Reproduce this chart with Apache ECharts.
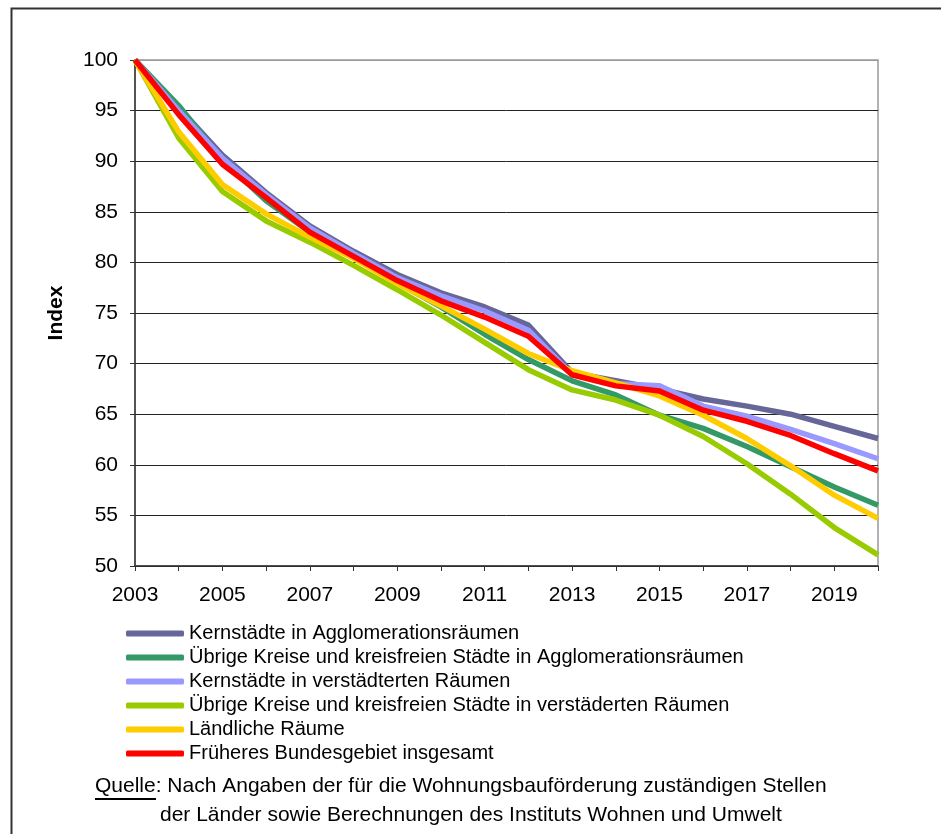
<!DOCTYPE html>
<html>
<head>
<meta charset="utf-8">
<script src="https://cdn.jsdelivr.net/npm/echarts@6/dist/echarts.min.js"></script>
<style>
    html, body { margin: 0; padding: 0; background: #fff; }
    #chart { width: 941px; height: 834px; }
</style>
</head>
<body>
<div id="chart"></div>
<script>
// Jahre (x-Achse)
const years = ["2003", "2004", "2005", "2006", "2007", "2008", "2009", "2010", "2011",
    "2012", "2013", "2014", "2015", "2016", "2017", "2018", "2019", "2020"];

// Index-Werte, 2003 = 100
const kernAgglo = [100, 95.3, 90.6, 86.9, 83.6, 81.1, 78.8, 77.0, 75.6, 73.8, 69.1, 68.3, 67.5, 66.5, 65.8, 65.0, 63.8, 62.6];
const uebrigeAgglo = [100, 95.5, 90.1, 86.1, 83.0, 80.5, 78.0, 75.6, 72.9, 70.4, 68.3, 66.9, 64.9, 63.6, 61.8, 59.8, 57.8, 56.0];
const kernVerst = [100, 95.0, 90.3, 86.7, 83.4, 80.9, 78.5, 76.7, 75.2, 73.3, 68.9, 68.0, 67.8, 65.8, 64.8, 63.5, 62.1, 60.6];
const uebrigeVerst = [100, 92.3, 87.0, 84.1, 82.0, 79.7, 77.3, 74.8, 72.1, 69.4, 67.4, 66.4, 64.9, 62.8, 60.1, 57.1, 53.8, 51.1];
const laendlich = [100, 92.9, 87.7, 84.8, 82.5, 80.4, 77.9, 75.7, 73.4, 71.0, 69.3, 68.1, 66.8, 64.9, 62.6, 59.9, 57.0, 54.7];
const bundesgebiet = [100, 94.6, 89.7, 86.4, 83.0, 80.6, 78.2, 76.2, 74.6, 72.7, 68.9, 67.8, 67.3, 65.4, 64.3, 62.9, 61.1, 59.4];

const names = [
    "Kernstädte in Agglomerationsräumen",
    "Übrige Kreise und kreisfreien Städte in Agglomerationsräumen",
    "Kernstädte in verstädterten Räumen",
    "Übrige Kreise und kreisfreien Städte in verstäderten Räumen",
    "Ländliche Räume",
    "Früheres Bundesgebiet insgesamt"
];
const values = [kernAgglo, uebrigeAgglo, kernVerst, uebrigeVerst, laendlich, bundesgebiet];
const colors = ["#666699", "#339966", "#9999ff", "#99cc00", "#ffcc00", "#ff0000"];

const font = "Liberation Sans, Arial, sans-serif";

const chart = echarts.init(document.getElementById("chart"));

// Gitterlinien schwarz, oberste Linie grau (Rahmen)
const ySplitColors = [];
for (let i = 0; i < 10; i++) ySplitColors.push("#222");
ySplitColors.push("#999");

chart.setOption({
    animation: false,
    color: colors,
    textStyle: { fontFamily: font },
    grid: {
        left: 135,
        top: 60,
        right: 63,
        bottom: 268,
        show: true,
        borderColor: "#999",
        borderWidth: 1.5
    },
    legend: {
        orient: "vertical",
        left: 126,
        top: 623,
        itemWidth: 58,
        itemHeight: 6,
        itemGap: 3,
        icon: "roundRect",
        padding: 0,
        textStyle: { fontFamily: font, fontSize: 20, color: "#000", lineHeight: 21 },
        data: names
    },
    xAxis: {
        type: "category",
        boundaryGap: false,
        data: years,
        axisLine: { lineStyle: { color: "#333", width: 1.5 } },
        axisTick: { show: true, interval: 0, length: 5, lineStyle: { color: "#333" } },
        axisLabel: { interval: 1, fontSize: 21, color: "#000", margin: 19, fontFamily: font },
        splitLine: { show: false }
    },
    yAxis: {
        type: "value",
        min: 50,
        max: 100,
        interval: 5,
        name: "Index",
        nameLocation: "middle",
        nameGap: 68,
        nameRotate: 90,
        nameTextStyle: { fontFamily: font, fontSize: 21, fontWeight: "bold", color: "#000" },
        axisLine: { show: true, lineStyle: { color: "#333", width: 1.5 } },
        axisTick: { show: true, length: 5, lineStyle: { color: "#333" } },
        axisLabel: { fontSize: 21, color: "#000", margin: 17, fontFamily: font },
        splitLine: { show: true, lineStyle: { color: ySplitColors, width: 1 } }
    },
    series: names.map((n, i) => ({
        name: n,
        type: "line",
        data: values[i],
        symbol: "none",
        lineStyle: { width: 5.5, color: colors[i] },
        itemStyle: { color: colors[i] }
    })),
    graphic: [
        {
            // äußerer Rahmen
            type: "rect",
            left: 9,
            top: 6,
            shape: { width: 1000, height: 1000 },
            style: { fill: "none", stroke: "#333", lineWidth: 2 },
            silent: true
        },
        {
            type: "text",
            left: 95,
            top: 776,
            style: {
                text: "Quelle: Nach Angaben der für die Wohnungsbauförderung zuständigen Stellen",
                fontFamily: font,
                fontSize: 21,
                fill: "#000"
            }
        },
        {
            type: "line",
            shape: { x1: 95, y1: 799, x2: 156, y2: 799 },
            style: { stroke: "#000", lineWidth: 2 }
        },
        {
            type: "text",
            left: 160,
            top: 805,
            style: {
                text: "der Länder sowie Berechnungen des Instituts Wohnen und Umwelt",
                fontFamily: font,
                fontSize: 21,
                fill: "#000"
            }
        }
    ]
});
</script>
</body>
</html>
